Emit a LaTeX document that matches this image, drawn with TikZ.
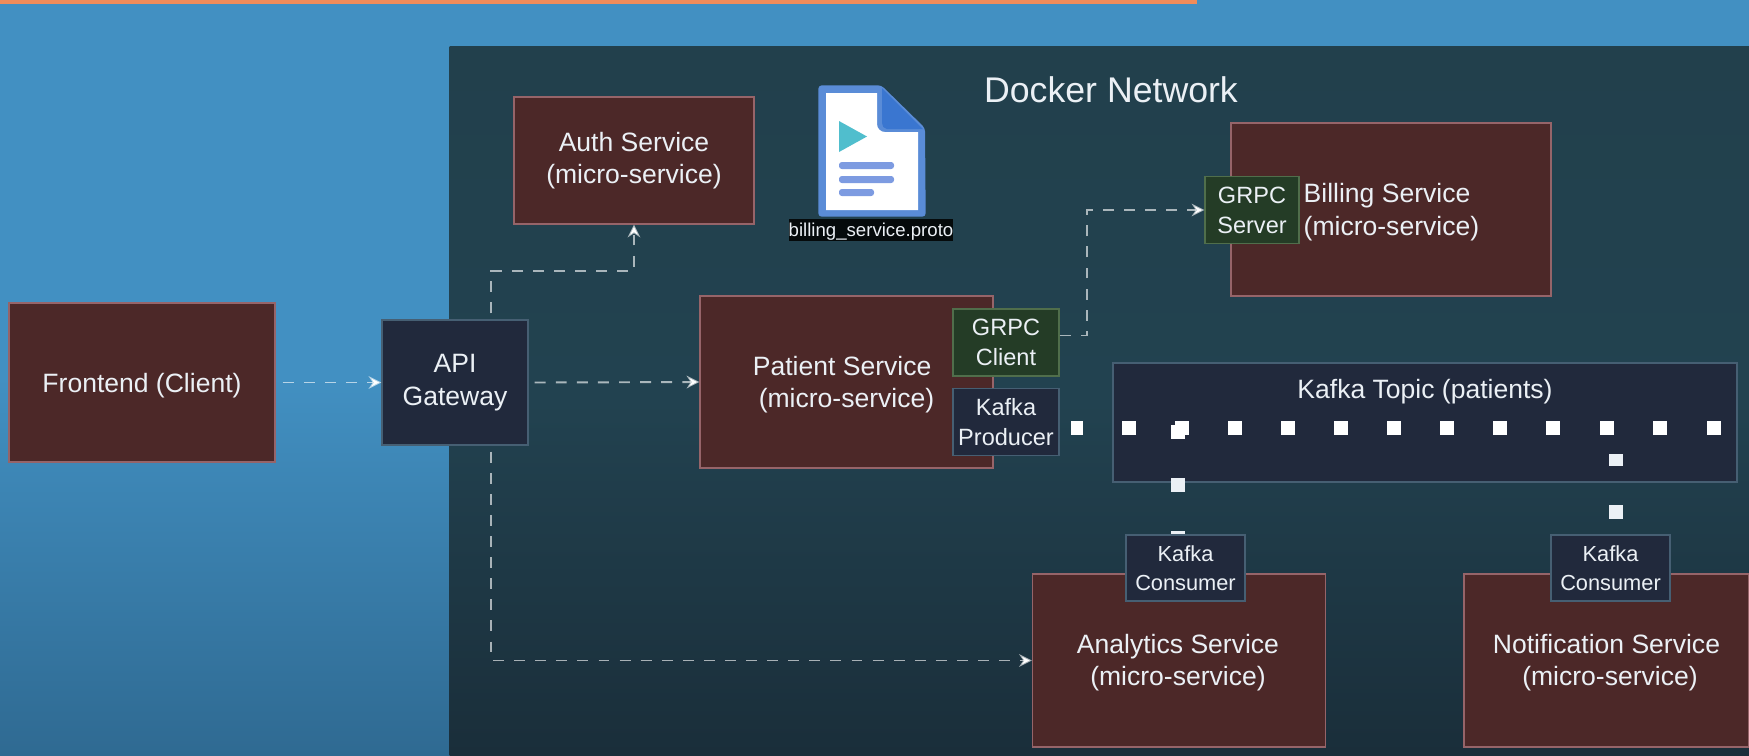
\documentclass[tikz,border=0pt]{standalone}
\usepackage{xcolor}
\usepackage{fontspec}
\setmainfont{Liberation Sans}
\usetikzlibrary{arrows.meta}
\definecolor{SkyTop}{RGB}{66, 144, 194}
\definecolor{SkyLow}{RGB}{47, 106, 146}
\definecolor{NetTop}{RGB}{34, 64, 76}
\definecolor{NetMid}{RGB}{34, 66, 80}
\definecolor{NetLow}{RGB}{26, 46, 58}
\definecolor{Orange}{RGB}{240, 140, 90}
\definecolor{Maroon}{RGB}{76, 40, 40}
\definecolor{MaroonLine}{RGB}{150, 100, 105}
\definecolor{Navy}{RGB}{33, 41, 60}
\definecolor{NavyLine}{RGB}{70, 95, 115}
\definecolor{Moss}{RGB}{36, 60, 38}
\definecolor{MossLine}{RGB}{80, 110, 75}
\definecolor{Paper}{RGB}{235, 240, 245}
\definecolor{DocBlue}{RGB}{90, 140, 215}
\definecolor{DocDark}{RGB}{58, 118, 208}
\definecolor{DocLine}{RGB}{125, 155, 225}
\definecolor{DocTeal}{RGB}{80, 190, 205}
\tikzset{
  boxtext/.style={font=\fontsize{7.55pt}{9.2pt}\selectfont, Paper, align=center, inner sep=0pt},
  lowered/.style={execute at begin node={\rule{0pt}{7pt}}},
  servicebox/.style={boxtext, lowered, draw=MaroonLine, fill=Maroon, line width=0.4pt},
  navybox/.style={boxtext, draw=NavyLine, fill=Navy, line width=0.4pt},
  mossbox/.style={boxtext, draw=MossLine, fill=Moss, line width=0.4pt},
  smallbox/.style={minimum width=1.06cm, minimum height=0.67cm, font=\fontsize{6.7pt}{8.5pt}\selectfont},
  wirekafka/.style={minimum width=1.19cm, minimum height=0.66cm, font=\fontsize{6.2pt}{8.2pt}\selectfont},
  flow/.style={draw=white, draw opacity=0.62, line width=0.55pt, dash pattern=on 3.1pt off 2.9pt, -{Stealth[length=3.6pt,width=3.6pt]}},
  packet/.style={fill=white, draw=none, inner sep=0pt, minimum size=0.14cm}
}
\begin{document}
\begin{tikzpicture}
\useasboundingbox (0,0) rectangle (17.49,-7.55);
\shade[top color=SkyTop, bottom color=SkyLow, middle color=SkyTop] (0,0) rectangle (17.49,-7.55);
\fill[Orange] (0,0) rectangle (11.97,-0.04);
\shade[top color=NetTop, bottom color=NetLow, middle color=NetMid] (4.495,-0.46) rectangle (17.49,-7.55);
\node[font=\fontsize{10.15pt}{12pt}\selectfont, Paper] (docker) at (11.11,-0.90) {Docker Network};
% services
\node[servicebox, minimum width=2.66cm, minimum height=1.59cm] (frontend) at (1.42,-3.825) {Frontend (Client)};
\node[servicebox, minimum width=2.40cm, minimum height=1.27cm] (auth) at (6.34,-1.605) {Auth Service\\(micro-service)};
\node[servicebox, minimum width=3.20cm, minimum height=1.73cm] (billing) at (13.91,-2.095) {};
\node[boxtext, align=left, anchor=west] (billingtext) at (13.03,-2.12) {Billing Service\\(micro-service)};
\node[servicebox, minimum width=2.93cm, minimum height=1.72cm] (patient) at (8.465,-3.82) {};
\node[boxtext] (patienttext) at (8.465,-3.845) {Patient Service\hspace*{2.5pt}\\(micro-service)};
\node[servicebox, minimum width=2.93cm, minimum height=1.73cm] (analytics) at (11.79,-6.605) {};
\node[boxtext] (analyticstext) at (11.78,-6.625) {Analytics Service\\(micro-service)};
\node[servicebox, minimum width=2.85cm, minimum height=1.73cm] (notification) at (16.065,-6.605) {};
\node[boxtext] (notificationtext) at (16.10,-6.625) {Notification Service\hspace*{2pt}\\(micro-service)};
% gateway and small boxes
\node[navybox, lowered, minimum width=1.46cm, minimum height=1.25cm] (gateway) at (4.55,-3.825) {API\\Gateway};
\node[mossbox, smallbox, minimum width=0.94cm] (grpcserver) at (12.52,-2.10) {GRPC\\Server};
\node[mossbox, smallbox] (grpcclient) at (10.06,-3.425) {GRPC\\Client};
\node[navybox, smallbox] (producer) at (10.06,-4.22) {Kafka\\Producer};
\node[navybox, minimum width=6.24cm, minimum height=1.19cm] (topic) at (14.25,-4.225) {};
\node[boxtext] (topictext) at (14.25,-3.92) {Kafka Topic (patients)};
% packets
\foreach \px [count=\i] in {11.29,11.82,12.35,12.88,13.41,13.94,14.47,15.00,15.53,16.07,16.60,17.14}
  \node[packet] (p\i) at (\px,-4.28) {};
\node[packet, minimum width=0.12cm] (ptail) at (10.77,-4.28) {};
\node[packet] (pdownA) at (11.78,-4.32) {};
\node[packet, fill=Paper] (pdownB) at (11.78,-4.85) {};
\node[packet, fill=Paper, minimum height=0.04cm] (pdownC) at (11.78,-5.33) {};
\node[packet, minimum height=0.12cm, fill=Paper] (pdownD) at (16.16,-4.60) {};
\node[packet, fill=Paper] (pdownE) at (16.16,-5.12) {};
\node[navybox, wirekafka] (consumera) at (11.855,-5.68) {Kafka\\Consumer};
\node[navybox, wirekafka] (consumerb) at (16.105,-5.68) {Kafka\\Consumer};
% proto file
\node[draw=none, inner sep=0pt, minimum width=1.06cm, minimum height=1.30cm] (proto) at (8.72,-1.51) {};
\fill[DocBlue, rounded corners=1pt] (proto.north west) -- ++(0.63,0) -- (9.25,-1.28) -- (proto.south east) -- (proto.south west) -- cycle;
\fill[white] (8.26,-0.93) -- (8.77,-0.93) -- (8.77,-1.24) to[out=-90,in=180] (8.85,-1.32) -- (9.18,-1.32) -- (9.18,-2.10) -- (8.26,-2.10) -- cycle;
\fill[DocDark] (8.82,-0.88) -- (9.23,-1.29) -- (8.87,-1.29) to[out=180,in=-90] (8.82,-1.23) -- cycle;
\fill[DocTeal] (8.39,-1.21) -- (8.67,-1.365) -- (8.39,-1.52) -- cycle;
\fill[DocLine, rounded corners=0.8pt] (8.39,-1.62) rectangle (8.94,-1.69);
\fill[DocLine, rounded corners=0.8pt] (8.39,-1.76) rectangle (8.94,-1.83);
\fill[DocLine, rounded corners=0.8pt] (8.39,-1.89) rectangle (8.74,-1.96);
\node[fill=black!85!NetTop, text=Paper, font=\fontsize{5.3pt}{6pt}\selectfont, inner sep=0pt, text height=5pt, text depth=1.1pt, minimum width=1.64cm, minimum height=0.22cm] (protolabel) at (8.71,-2.30) {billing\_service.proto};
% connectors
\coordinate (authturn) at (4.91,-2.71);
\coordinate (lowturn) at (4.91,-6.605);
\coordinate (grpcturn) at (10.87,-2.10);
\draw[flow, shorten <=0.07cm] (frontend.east) -- (gateway.west);
\draw[flow, shorten <=0.06cm] (gateway.east) -- (patient.west);
\draw[flow, shorten <=0.06cm] (gateway.north -| authturn) -- (authturn) -| (auth.south);
\draw[flow, shorten <=0.06cm] (gateway.south -| lowturn) |- (analytics.west);
\draw[flow] ([yshift=0.07cm]grpcclient.east) -| (grpcturn) -- (grpcserver.west);
\end{tikzpicture}
\end{document}
